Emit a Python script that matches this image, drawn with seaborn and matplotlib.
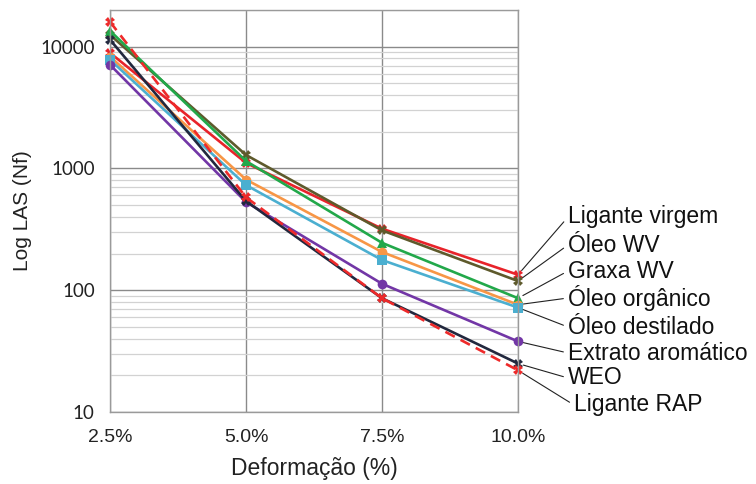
import matplotlib
matplotlib.use("Agg")
import matplotlib.pyplot as plt
import seaborn as sns
import pandas as pd
from matplotlib.ticker import FixedLocator, LogLocator, NullFormatter, FixedFormatter

# ---------------- data ----------------
strain = [2.5, 5.0, 7.5, 10.0]
strain_labels = ["2.5%", "5.0%", "7.5%", "10.0%"]
series_names = ["Ligante virgem", "Óleo WV", "Graxa WV", "Óleo orgânico",
                "Óleo destilado", "Extrato aromático", "WEO", "Ligante RAP"]
ligante_virgem = [8900, 1110, 320, 134]
oleo_wv = [12500, 1290, 310, 119]
graxa_wv = [13500, 1150, 245, 86]
oleo_organico = [8300, 810, 206, 76]
oleo_destilado = [7800, 730, 177, 72]
extrato_aromatico = [7100, 530, 113, 38]
weo = [11400, 540, 86, 25]
ligante_rap = [16000, 580, 86, 22]
y_ticks = [10, 100, 1000, 10000]
y_tick_labels = ["10", "100", "1000", "10000"]

values = [ligante_virgem, oleo_wv, graxa_wv, oleo_organico,
          oleo_destilado, extrato_aromatico, weo, ligante_rap]

# ---------------- style ----------------
colors = ["#E8232A", "#5E5A2C", "#22A84A", "#F79646",
          "#4BAFD0", "#7236A6", "#22283E", "#EE2A2A"]
markers = ["X", "X", "^", "o", "s", "o", "X", "X"]
dashes = ["", "", "", "", "", "", "", (4, 2.5)]

rows = []
for name, vals in zip(series_names, values):
    for s, v in zip(strain, vals):
        rows.append({"strain": s, "nf": v, "serie": name})
df = pd.DataFrame(rows)

sns.set_theme(style="white")
plt.rcParams["font.family"] = ["Liberation Sans", "DejaVu Sans"]

fig = plt.figure(figsize=(7.56, 4.84), dpi=100)
ax = fig.add_axes([110 / 756, 1 - 412 / 484, 408 / 756, 402 / 484])

sns.lineplot(data=df, x="strain", y="nf", hue="serie", style="serie",
             hue_order=series_names, style_order=series_names,
             palette=dict(zip(series_names, colors)),
             markers=dict(zip(series_names, markers)),
             dashes=dict(zip(series_names, dashes)),
             markersize=7, markeredgewidth=0, linewidth=1.9,
             legend=False, ax=ax, clip_on=False)

ax.set_yscale("log")
ax.set_ylim(10, 20000)
ax.set_xlim(2.5, 10.0)

ax.xaxis.set_major_locator(FixedLocator(strain))
ax.xaxis.set_major_formatter(FixedFormatter(strain_labels))
ax.yaxis.set_major_locator(FixedLocator(y_ticks))
ax.yaxis.set_major_formatter(FixedFormatter(y_tick_labels))
ax.yaxis.set_minor_locator(LogLocator(base=10, subs=range(2, 10)))
ax.yaxis.set_minor_formatter(NullFormatter())

ax.grid(True, which="major", axis="both", color="#8a8a8a", linewidth=1.0)
ax.grid(True, which="minor", axis="y", color="#d2d2d2", linewidth=0.9)
ax.set_axisbelow(True)
for sp in ax.spines.values():
    sp.set_color("#9a9a9a")
    sp.set_linewidth(1.0)

ax.tick_params(axis="both", which="both", length=0)
ax.tick_params(axis="x", pad=12, labelsize=14, labelcolor="#222222")
ax.tick_params(axis="y", pad=11, labelsize=13.5, labelcolor="#222222")
for t in ax.get_yticklabels():
    t.set_family(["Lato", "DejaVu Sans"])

ax.set_xlabel("Deformação (%)", fontsize=16.5, color="#222222", labelpad=8)
ax.set_ylabel("Log LAS (Nf)", fontsize=15, color="#222222", labelpad=6)

# ---------------- callout labels ----------------
label_y_px = [217, 245, 271, 298, 327, 353, 378, 405]
label_x_px = [568, 568, 568, 568, 568, 568, 568, 574]
for name, vals, lx, ly in zip(series_names, values, label_x_px, label_y_px):
    ax.annotate(name, xy=(strain[-1], vals[-1]), xycoords="data",
                xytext=(lx / 756, 1 - ly / 484), textcoords="figure fraction",
                ha="left", va="center", fontsize=16.5, color="#111111",
                annotation_clip=False,
                arrowprops=dict(arrowstyle="-", color="#222222", lw=0.8,
                                shrinkA=1, shrinkB=4, relpos=(0, 0.5)))

fig.savefig("out.png", dpi=100)
